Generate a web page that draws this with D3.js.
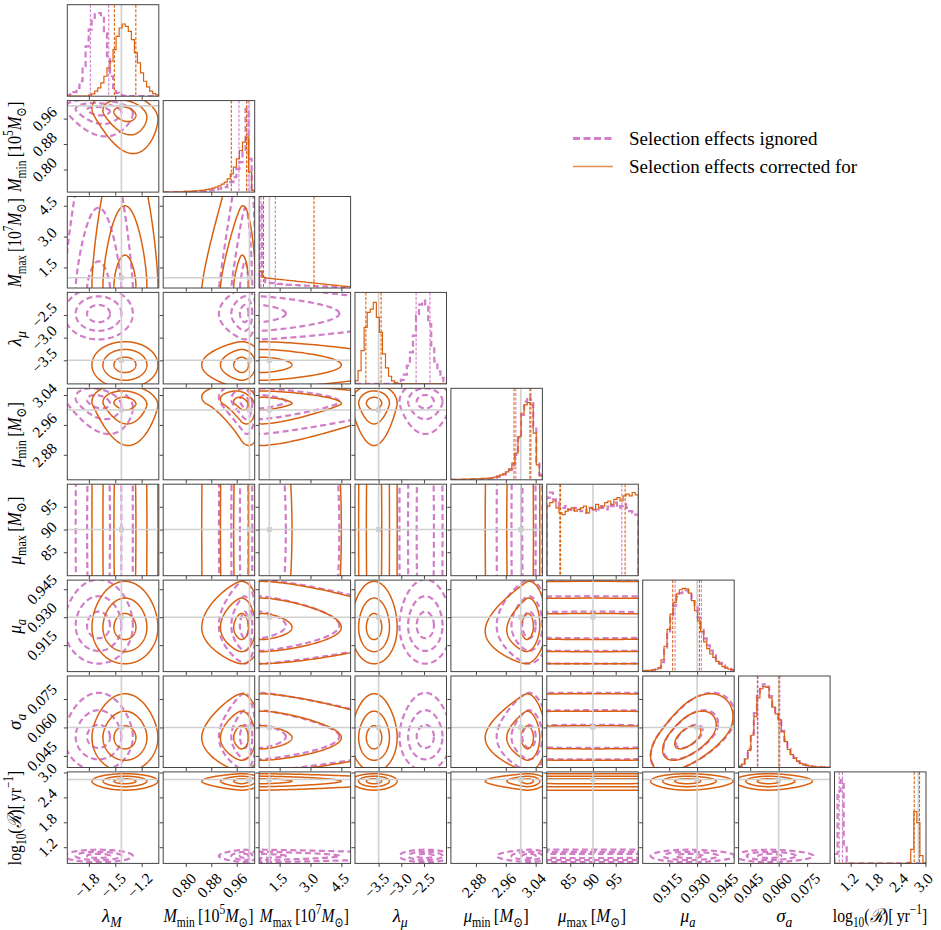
<!DOCTYPE html>
<html><head><meta charset="utf-8">
<script src="https://cdn.jsdelivr.net/npm/d3@7"></script>
<style>
body{margin:0;background:#fff;}
text{font-family:"Liberation Serif","DejaVu Serif",serif;fill:#000;}
</style></head><body>
<svg id="c" width="941" height="930"></svg>
<script>
// ---------------- DATA ----------------
const params = ["lambda_M","M_min","M_max","lambda_mu","mu_min","mu_max","mu_a","sigma_a","log10_R"];
const ranges = [[-2.045,-1.005],[0.729,1.0165],[0.5,4.95],[-4.02,-2.003],[2.813,3.058],[79.85,99.97],[0.9008,0.9499],[0.0389,0.0871],[0.81,3.014]];
const tickValues = [[-1.8,-1.5,-1.2],[0.80,0.88,0.96],[1.5,3.0,4.5],[-3.5,-3.0,-2.5],[2.88,2.96,3.04],[85,90,95],[0.915,0.930,0.945],[0.045,0.060,0.075],[1.2,1.8,2.4,3.0]];
const tickLabels = [["−1.8","−1.5","−1.2"],["0.80","0.88","0.96"],["1.5","3.0","4.5"],["−3.5","−3.0","−2.5"],["2.88","2.96","3.04"],["85","90","95"],["0.915","0.930","0.945"],["0.045","0.060","0.075"],["1.2","1.8","2.4","3.0"]];
const truths = [-1.43,1.0,1.0,-3.5,3.0,90,0.93,0.06,2.83];

// histograms (30 bins across each range)
const histIgnored = [
 [3,6,12,25,45,90,150,200,235,250,250,240,190,120,60,25,10,4,1,0,0,0,0,0,0,0,0,0,0,0],
 [0,0,0,0,0,0,0,1,1,1,2,2,3,3,4,5,6,8,10,12,15,22,30,45,70,90,120,250,100,5],
 [260,40,18,16,15,14,13,12,11,10,10,9,9,8,8,7,7,6,6,5,5,5,4,4,4,3,3,3,2,2],
 [0,0,0,0,0,0,0,0,0,0,0,0,0,1,3,12,28,55,95,145,205,238,250,235,180,115,68,38,18,8],
 [0,0,0,0,0,0,1,1,1,1,2,2,3,4,6,9,12,16,22,30,45,75,125,195,235,250,240,160,55,15],
 [230,245,225,215,205,200,205,195,190,200,195,190,185,195,200,190,195,205,200,195,210,205,215,200,205,210,200,190,185,180],
 [1,2,3,4,6,10,28,65,115,160,195,222,232,238,240,232,215,190,160,128,98,78,62,48,36,26,18,12,8,5],
 [4,12,30,55,100,160,212,240,245,238,210,180,160,138,108,80,55,40,28,19,13,9,6,4,3,2,2,1,1,1],
 [30,230,265,60,5,0,0,0,0,0,0,0,0,0,0,0,0,0,0,0,0,0,0,0,0,0,0,0,0,0]
];
const histCorrected = [
 [0,0,0,0,0,0,0,3,7,15,25,40,60,85,105,140,180,205,217,210,195,170,130,100,70,45,28,15,8,4],
 [0,0,0,0,1,1,1,2,2,3,3,4,5,6,8,10,12,15,19,24,30,40,55,75,100,125,150,165,60,5],
 [52,33,31,30,29,28,27,26,25,24,23,22,21,20,19,18,17,16,15,14,13,12,11,10,9,8,7,6,5,4],
 [10,40,100,170,215,225,245,200,155,90,48,23,9,4,1,0,0,0,0,0,0,0,0,0,0,0,0,0,0,0],
 [1,1,1,1,2,2,2,3,3,3,4,4,5,6,8,11,14,18,24,33,50,80,130,200,225,232,225,140,45,12],
 [205,215,220,200,185,180,190,195,200,190,195,200,205,185,200,195,210,200,205,215,220,210,225,230,220,235,240,235,245,238],
 [2,3,4,5,7,12,35,75,125,170,205,230,242,246,245,232,210,180,150,118,88,68,52,42,30,22,15,10,7,5],
 [3,10,25,50,95,150,205,232,238,236,205,178,158,140,105,76,53,38,27,18,12,8,6,4,3,2,2,1,1,1],
 [0,0,0,0,0,0,0,0,0,0,0,0,0,0,0,0,0,0,0,0,0,0,0,0,3,45,165,130,25,2]
];
const quantIgnored = [[-1.783,-1.574],[0.967,0.996],[0.587,1.29],[-2.673,-2.368],[2.987,3.024],[82.65,96.35],[0.9182,0.9323],[0.0491,0.0606],[0.923,1.003]];
const quantCorrected = [[-1.51,-1.266],[0.943,0.991],[0.715,3.17],[-3.78,-3.445],[2.982,3.027],[82.87,97.07],[0.9169,0.9312],[0.0488,0.0602],[2.73,2.858]];

// contour summaries per parameter: [centre, sigmaLow, sigmaHigh, tailLow, tailHigh]
const shapeIgnored = [
 [-1.69,0.13,0.13,0,0],[0.985,0.015,0.012,0.4,0],[0.5,0.3,1.3,0,0.5],[-2.47,0.19,0.19,0,0],
 [3.022,0.018,0.018,0.3,0],[90,40,40,0,0],[0.9255,0.0068,0.0075,0,0.05],[0.0552,0.006,0.0062,0,0.12],[0.99,0.05,0.05,0,0]
];
const shapeCorrected = [
 [-1.39,0.125,0.125,0,0],[0.975,0.0245,0.022,0.35,0],[0.6,0.3,1.5,0,0.3],[-3.6,0.17,0.17,0,0],
 [3.017,0.017,0.017,0.6,0],[90,40,40,0,0],[0.9245,0.0065,0.0075,0,0.05],[0.0547,0.006,0.0062,0,0.12],[2.79,0.06,0.06,0.1,0]
];
// pair correlations [colParam, rowParam, rho]
const corrIgnored = [[0,1,-0.2],[0,4,-0.3],[1,4,-0.2],[1,2,0.08],[6,7,0.55]];
const corrCorrected = [[0,1,-0.25],[1,2,0.1],[1,4,-0.35],[0,4,-0.1],[4,6,0.1],[6,7,0.55]];
const contourLevels = [1,2,3];

const legendLabels = ["Selection effects ignored","Selection effects corrected for"];

// axis label segments: [text, style]
const axisLabels = [
 [["λ","i"],["M","isub"]],
 [["M","i"],["min","sub"],["\u2009[10","r"],["5","sup"],["M","i"],["⊙","sub"],["]","r"]],
 [["M","i"],["max","sub"],["\u2009[10","r"],["7","sup"],["M","i"],["⊙","sub"],["]","r"]],
 [["λ","i"],["μ","isub"]],
 [["μ","i"],["min","sub"],["\u2009[","r"],["M","i"],["⊙","sub"],["]","r"]],
 [["μ","i"],["max","sub"],["\u2009[","r"],["M","i"],["⊙","sub"],["]","r"]],
 [["μ","i"],["a","isub"]],
 [["σ","i"],["a","isub"]],
 [["log","r"],["10","sub"],["(","r"],["ℛ","i"],[")[\u2009yr","r"],["−1","sup"],["]","r"]]
];
const axisLabelMaxWidth = [22,91,90,19,66,69,16,17,95];

// ---------------- LAYOUT / STYLE ----------------
const N = 9, L0 = 67.3, T0 = 4.7, PITCH = 95.9, SIZE = 91.5;
const COL_I = "#d27dc8", COL_C = "#d9600f", GRAY = "#d0d0d0", SPINE = "#444";
const TICK_F = 15.5, LAB_F = 19;
const svg = d3.select("#c");
const defs = svg.append("defs");

const xS = ranges.map((r,j)=>d3.scaleLinear().domain(r).range([L0+PITCH*j, L0+PITCH*j+SIZE]));
const yS = ranges.map((r,i)=>d3.scaleLinear().domain(r).range([T0+PITCH*i+SIZE, T0+PITCH*i]));

function warp(s, z){
  const [c,sL,sH,kL,kH] = s;
  if (z < 0) return c + sL*z*(1 + kL*(-z-1));
  return c + sH*z*(1 + kH*(z-1));
}
function corrOf(list, a, b){
  const f = list.find(d => (d[0]===a && d[1]===b) || (d[0]===b && d[1]===a));
  return f ? f[2] : 0;
}
const lineGen = d3.line().curve(d3.curveLinearClosed);
const lineOpen = d3.line();

function richText(sel, segs, F){
  let cur = 0;
  segs.forEach(([t, st]) => {
    let off = 0, fs = F;
    if (st.includes("sub")) { off = 0.26*F; fs = 0.72*F; }
    if (st.includes("sup")) { off = -0.42*F; fs = 0.72*F; }
    sel.append("tspan").attr("dy", off-cur).attr("font-size", fs)
      .attr("font-style", st.startsWith("i") ? "italic" : "normal").text(t);
    cur = off;
  });
}
function axisLabel(cx, cy, rot, segs, maxW){
  const t = svg.append("text").attr("font-size", LAB_F);
  richText(t, segs, LAB_F);
  const w = t.node().getBBox().width;
  const s = Math.min(1, maxW / w);
  t.attr("transform", `translate(${cx},${cy}) rotate(${rot}) scale(${s},1) translate(${-w/2},0)`);
}

function placeRotated(parent, str, F, mode, ax, ay){
  const g = parent.append("g");
  g.append("text").attr("font-size", F).attr("transform","rotate(-45)").text(str);
  const bb = g.node().getBBox();
  let dx, dy;
  if (mode === "x"){ dx = ax - (bb.x + bb.width/2); dy = ay - bb.y; }
  else { dx = ax - (bb.x + bb.width); dy = ay - (bb.y + bb.height/2); }
  g.attr("transform", `translate(${dx},${dy})`);
}

for (let i = 0; i < N; i++){
  for (let j = 0; j <= i; j++){
    const x0 = L0 + PITCH*j, y0 = T0 + PITCH*i;
    const cid = `clip${i}_${j}`;
    defs.append("clipPath").attr("id", cid).append("rect")
      .attr("x", x0).attr("y", y0).attr("width", SIZE).attr("height", SIZE);
    const panel = svg.append("g");
    const inner = panel.append("g").attr("clip-path", `url(#${cid})`);

    if (i === j){
      const [lo, hi] = ranges[j];
      const nb = histIgnored[j].length;
      const edges = d3.range(nb+1).map(k => lo + (hi-lo)*k/nb);
      const ymax = 1.1*d3.max(histIgnored[j].concat(histCorrected[j]));
      const ys = d3.scaleLinear().domain([0, ymax]).range([y0+SIZE, y0]);
      inner.append("line").attr("x1", xS[j](truths[j])).attr("x2", xS[j](truths[j]))
        .attr("y1", y0).attr("y2", y0+SIZE).attr("stroke", GRAY).attr("stroke-width", 1.6);
      const series = [[histIgnored[j], COL_I, 2.2, "6,3.5", quantIgnored[j]],
                      [histCorrected[j], COL_C, 1.2, null, quantCorrected[j]]];
      series.forEach(([h, col, w, dash, q]) => {
        const pts = [[xS[j](edges[0]), ys(0)]];
        h.forEach((v,k) => { pts.push([xS[j](edges[k]), ys(v)]); pts.push([xS[j](edges[k+1]), ys(v)]); });
        pts.push([xS[j](edges[nb]), ys(0)]);
        const p = inner.append("path").attr("d", lineOpen(pts)).attr("fill","none")
          .attr("stroke", col).attr("stroke-width", w).attr("stroke-linejoin","miter");
        if (dash) p.attr("stroke-dasharray", dash);
        q.forEach(v => {
          inner.append("line").attr("x1", xS[j](v)).attr("x2", xS[j](v))
            .attr("y1", y0).attr("y2", y0+SIZE).attr("stroke", col).attr("stroke-width", 1.1)
            .attr("stroke-dasharray", "3,1.6");
        });
      });
    } else {
      const sets = [[shapeIgnored, corrIgnored, COL_I, 2.2, "6,3.5"],
                    [shapeCorrected, corrCorrected, COL_C, 1.5, null]];
      sets.forEach(([shape, corr, col, w, dash]) => {
        const rho = corrOf(corr, j, i);
        const rr = Math.sqrt(1 - rho*rho);
        contourLevels.forEach(r => {
          const pts = d3.range(0, 240).map(k => {
            const t = 2*Math.PI*k/240;
            const u = r*Math.cos(t), v = r*Math.sin(t);
            const zx = u, zy = rho*u + rr*v;
            return [xS[j](warp(shape[j], zx)), yS[i](warp(shape[i], zy))];
          });
          const p = inner.append("path").attr("d", lineGen(pts)).attr("fill","none")
            .attr("stroke", col).attr("stroke-width", w);
          if (dash) p.attr("stroke-dasharray", dash);
        });
      });
      const tx = xS[j](truths[j]), ty = yS[i](truths[i]);
      inner.append("line").attr("x1", tx).attr("x2", tx).attr("y1", y0).attr("y2", y0+SIZE)
        .attr("stroke", GRAY).attr("stroke-width", 1.6);
      inner.append("line").attr("x1", x0).attr("x2", x0+SIZE).attr("y1", ty).attr("y2", ty)
        .attr("stroke", GRAY).attr("stroke-width", 1.6);
      inner.append("rect").attr("x", tx-2.5).attr("y", ty-2.5).attr("width", 5).attr("height", 5)
        .attr("fill", GRAY);
      const ya = panel.append("g").attr("transform", `translate(${x0},0)`)
        .call(d3.axisLeft(yS[i]).tickValues(tickValues[i]).tickSize(3.5).tickFormat(""));
      ya.select(".domain").remove();
      ya.selectAll("line").attr("stroke", SPINE).attr("stroke-width", 1);
    }
    const xa = panel.append("g").attr("transform", `translate(0,${y0+SIZE})`)
      .call(d3.axisBottom(xS[j]).tickValues(tickValues[j]).tickSize(3.5).tickFormat(""));
    xa.select(".domain").remove();
    xa.selectAll("line").attr("stroke", SPINE).attr("stroke-width", 1);
    panel.append("rect").attr("x", x0).attr("y", y0).attr("width", SIZE).attr("height", SIZE)
      .attr("fill","none").attr("stroke", SPINE).attr("stroke-width", 1);

    if (i === N-1){
      tickValues[j].forEach((v,k) => placeRotated(svg, tickLabels[j][k], TICK_F, "x", xS[j](v)-2, y0+SIZE+6));
      axisLabel(x0+SIZE/2, 922, 0, axisLabels[j], axisLabelMaxWidth[j]);
    }
    if (j === 0 && i > 0){
      tickValues[i].forEach((v,k) => placeRotated(svg, tickLabels[i][k], TICK_F, "y", x0-7, yS[i](v)));
      axisLabel(21, y0+SIZE/2, -90, axisLabels[i], axisLabelMaxWidth[i]);
    }
  }
}

// legend
const lg = svg.append("g");
[[COL_I, 3, "7,3.5", 1], [COL_C, 1.6, null, 0.7]].forEach(([col, w, dash, op], k) => {
  const y = 138.5 + 28*k;
  const l = lg.append("line").attr("x1", 573).attr("x2", 613).attr("y1", y).attr("y2", y)
    .attr("stroke", col).attr("stroke-width", w).attr("opacity", op);
  if (dash) l.attr("stroke-dasharray", dash);
  lg.append("text").attr("x", 629).attr("y", y+6.5).attr("font-size", 19).text(legendLabels[k]);
});
</script>
</body></html>
